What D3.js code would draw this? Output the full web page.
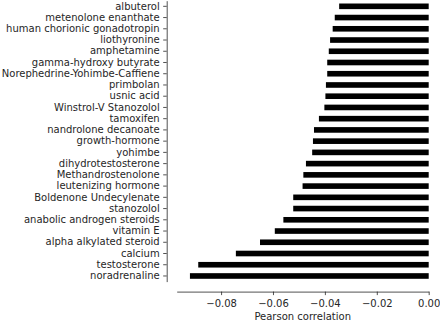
<!DOCTYPE html>
<html>
<head>
<meta charset="utf-8">
<script src="https://cdn.jsdelivr.net/npm/d3@7"></script>
<style>
  body { margin: 0; background: #fff; }
  svg { display: block; }
  svg text { font-family: "DejaVu Sans", sans-serif; }
</style>
</head>
<body>
<div id="wrapper"></div>
<script>
// substances, top to bottom
const substances = [
  "albuterol", "metenolone enanthate", "human chorionic gonadotropin", "liothyronine",
  "amphetamine", "gamma-hydroxy butyrate", "Norephedrine-Yohimbe-Caffiene", "primbolan",
  "usnic acid", "Winstrol-V Stanozolol", "tamoxifen", "nandrolone decanoate",
  "growth-hormone", "yohimbe", "dihydrotestosterone", "Methandrostenolone",
  "leutenizing hormone", "Boldenone Undecylenate", "stanozolol", "anabolic androgen steroids",
  "vitamin E", "alpha alkylated steroid", "calcium", "testosterone", "noradrenaline"
];
const correlations = [
  -0.0345, -0.0362, -0.0370, -0.0380,
  -0.0385, -0.0391, -0.0391, -0.0396,
  -0.0398, -0.0402, -0.0423, -0.0442,
  -0.0446, -0.0449, -0.0473, -0.0483,
  -0.0486, -0.0522, -0.0522, -0.0560,
  -0.0593, -0.0650, -0.0743, -0.0888, -0.0920
];
const xTicks = [-0.08, -0.06, -0.04, -0.02, 0.00];

const dimension = {
  width: 440,
  height: 321,
  plotLeft: 176.7,
  plotRight: 428.7,
  plotTop: 0.7,
  plotBottom: 281.6,
  offset: 10
};

const data = substances.map((s, i) => ({name: s, value: correlations[i]}));

const svg = d3.select("#wrapper")
  .append("svg")
  .attr("width", dimension.width)
  .attr("height", dimension.height);

const xScaler = d3.scaleLinear()
  .domain([-0.0971, 0])
  .range([dimension.plotLeft, dimension.plotRight]);

const yScaler = d3.scaleBand()
  .domain(substances)
  .range([dimension.plotTop, dimension.plotBottom])
  .paddingInner(0.5)
  .paddingOuter(0.25);

// bars
svg.append("g")
  .selectAll("rect")
  .data(data)
  .enter()
  .append("rect")
  .attr("x", d => xScaler(d.value))
  .attr("y", d => yScaler(d.name))
  .attr("width", d => xScaler(0) - xScaler(d.value))
  .attr("height", yScaler.bandwidth())
  .attr("fill", "#000");

// x axis (offset below the plot)
const xAxisGenerator = d3.axisBottom(xScaler)
  .tickValues(xTicks)
  .tickFormat(d => d3.format(".2f")(d).replace("-", "\u2212"))
  .tickSizeInner(3.5)
  .tickSizeOuter(0)
  .tickPadding(4.5);

const xAxis = svg.append("g")
  .attr("transform", `translate(0, ${dimension.plotBottom + dimension.offset})`)
  .call(xAxisGenerator)
  .attr("font-family", null);
xAxis.selectAll("text").style("font-size", "10px").attr("fill", "#262626");
xAxis.selectAll("line, path").attr("stroke", "#262626").attr("stroke-width", 0.8);

// y axis (offset left of the plot)
const yAxisGenerator = d3.axisLeft(yScaler)
  .tickSizeInner(3.5)
  .tickSizeOuter(0)
  .tickPadding(3.5);

const yAxis = svg.append("g")
  .attr("transform", `translate(${dimension.plotLeft - dimension.offset}, 0)`)
  .call(yAxisGenerator)
  .attr("font-family", null);
yAxis.selectAll("text").style("font-size", "10px").attr("fill", "#262626");
yAxis.selectAll("line, path").attr("stroke", "#262626").attr("stroke-width", 0.8);

svg.append("text")
  .attr("x", (dimension.plotLeft + dimension.plotRight) / 2)
  .attr("y", 319.5)
  .attr("text-anchor", "middle")
  .style("font-size", "10px")
  .attr("fill", "#262626")
  .text("Pearson correlation");
</script>
</body>
</html>
